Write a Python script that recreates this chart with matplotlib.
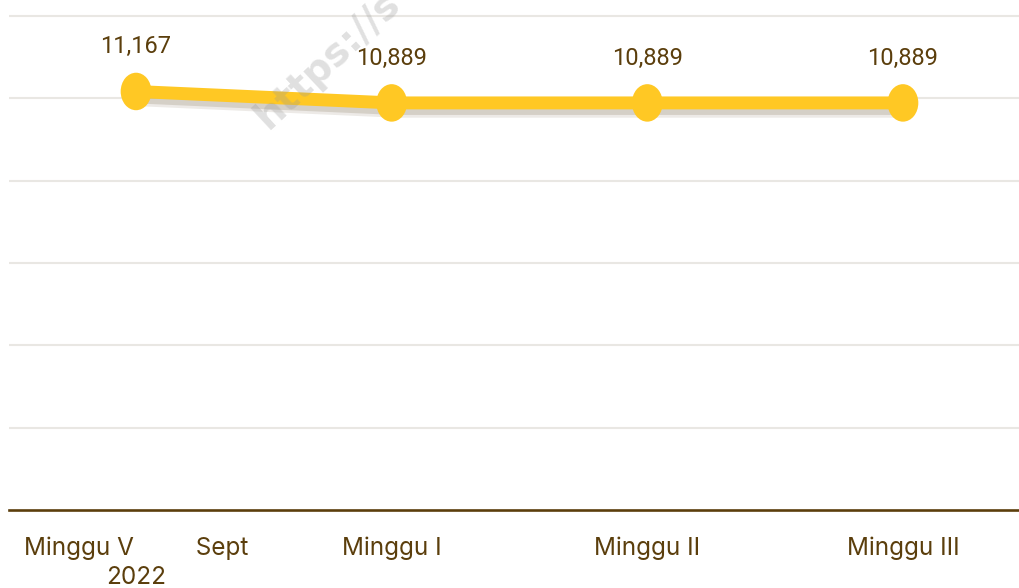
import matplotlib
matplotlib.use("Agg")
import matplotlib.pyplot as plt
import matplotlib.patheffects as pe
from matplotlib.markers import MarkerStyle
from matplotlib.transforms import Affine2D

# data
categories = ["Minggu V         Sept\n2022", "Minggu I", "Minggu II", "Minggu III"]
values = [11167, 10889, 10889, 10889]
grid_vals = [3000, 5000, 7000, 9000, 11000, 13000]

yellow = "#FFC824"
brown = "#5B3E0C"

fig = plt.figure(figsize=(10.19, 5.88), dpi=100)
ax = fig.add_axes([9 / 1019, 1 - 510 / 588, 1 - 9 / 1019, 510 / 588])

x = list(range(len(values)))
marker = MarkerStyle("o", transform=Affine2D().scale(0.82, 1.0))
ax.plot(x, values, color=yellow, lw=9.3, marker=marker, markersize=27,
        markeredgewidth=0, solid_capstyle="round", zorder=3,
        path_effects=[pe.SimpleLineShadow(offset=(3, -6), shadow_color="#6b5a3a", alpha=0.12),
                      pe.SimpleLineShadow(offset=(2, -4), shadow_color="#6b5a3a", alpha=0.18),
                      pe.Normal()])

for xi, v in zip(x, values):
    ax.annotate(f"{v:,}", (xi, v), xytext=(0, 27.5), textcoords="offset points",
                ha="center", va="baseline", fontsize=17, color=brown,
                family=["Roboto", "DejaVu Sans"])

ax.set_xlim(-0.497, 3.454)
ax.set_ylim(1000, 13389)
ax.set_yticks(grid_vals)
ax.set_yticklabels([])
ax.tick_params(axis="y", length=0)
ax.grid(axis="y", color="#e9e7e3", lw=1.5)
ax.set_axisbelow(True)

ax.set_xticks(x)
ax.set_xticklabels(categories, family=["Inter", "DejaVu Sans"], fontsize=17.5,
                   color=brown, linespacing=1.36, va="top")
ax.tick_params(axis="x", length=0, pad=19)

for s in ["top", "left", "right"]:
    ax.spines[s].set_visible(False)
ax.spines["bottom"].set_color(brown)
ax.spines["bottom"].set_linewidth(1.9)

# watermark
fig.text(268 / 1019, 1 - 130 / 588, "https://s", rotation=43, rotation_mode="anchor",
         ha="left", va="baseline", fontsize=28, fontweight="bold",
         color="#9a9a9a", alpha=0.3, family=["DejaVu Sans"])

fig.savefig("out.png", dpi=100)
